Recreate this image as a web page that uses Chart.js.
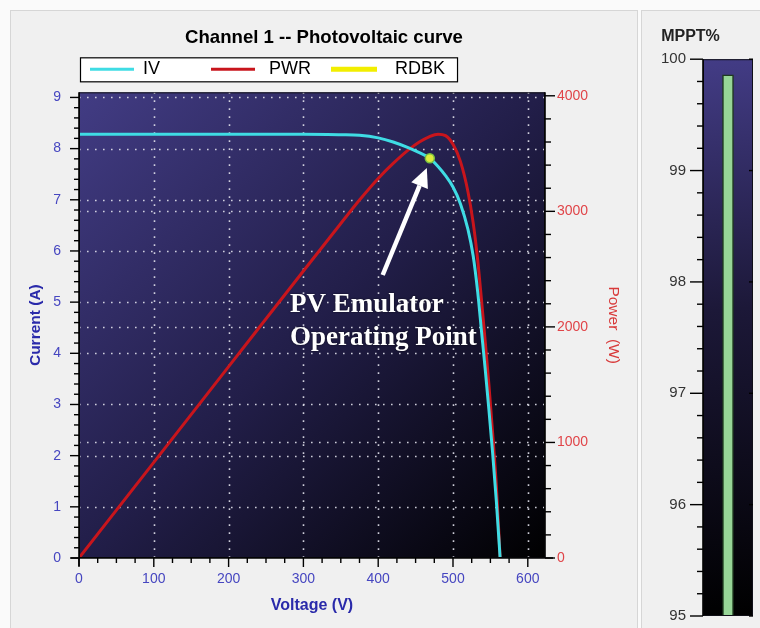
<!DOCTYPE html>
<html>
<head>
<meta charset="utf-8">
<script src="https://cdn.jsdelivr.net/npm/chart.js@4.4.1/dist/chart.umd.min.js"></script>
<style>
  html, body { margin:0; padding:0; width:760px; height:628px; overflow:hidden; background:#fafafa; }
  .panel { position:absolute; background:#f0f0f0; border:1px solid #d6d6d6; box-sizing:border-box; }
  #p1 { left:10px; top:10px; width:628px; height:640px; }
  #p2 { left:641px; top:10px; width:130px; height:640px; }
  .wrap { position:absolute; }
  #w1 { left:10px; top:10px; width:628px; height:618px; }
  #w2 { left:628px; top:10px; width:132px; height:624px; }
</style>
</head>
<body>
<div class="panel" id="p1"></div>
<div class="panel" id="p2"></div>
<div class="wrap" id="w1"><canvas id="pv" width="628" height="618"></canvas></div>
<div class="wrap" id="w2"><canvas id="mppt" width="132" height="624"></canvas></div>
<script>
// ---------------- data ----------------
const voltage  = [0, 100, 200, 300, 350, 375, 400, 420, 440, 455, 468, 480, 490, 500, 510, 520, 527, 533, 538, 543, 548, 553, 558, 563];
const currentA = [8.28, 8.28, 8.28, 8.28, 8.27, 8.26, 8.21, 8.13, 8.02, 7.92, 7.82, 7.65, 7.47, 7.25, 6.92, 6.42, 5.90, 5.20, 4.45, 3.70, 2.90, 2.05, 1.10, 0.00];
const powerW   = [0, 828, 1656, 2484, 2895, 3098, 3285, 3415, 3530, 3600, 3645, 3668, 3655, 3580, 3430, 3170, 2900, 2580, 2240, 1880, 1500, 1080, 620, 0];
const rdbkVoltage = [469];
const rdbkCurrent = [7.81];

const voltageTicks = [0, 100, 200, 300, 400, 500, 600];
const currentTicks = [0, 1, 2, 3, 4, 5, 6, 7, 8, 9];
const powerTicks   = [0, 1000, 2000, 3000, 4000];

const legendLabels = ['IV', 'PWR', 'RDBK'];

const mpptLabels = ['MPPT%'];
const mpptValues = [99.86];
const mpptTicks  = [95, 96, 97, 98, 99, 100];

// annotation (data coordinates)
const noteLines  = ['PV Emulator', 'Operating Point'];
const noteAnchor = [{v: 282, a: 4.80}, {v: 282, a: 4.16}];
const arrowFrom  = {v: 406, a: 5.53};
const arrowTo    = {v: 465, a: 7.62};

// ---------------- styles ----------------
const FONT = '"Liberation Sans", Arial, sans-serif';
const COL = {
  cyan: '#3fdce4', red: '#c8151c', yellow: '#f2ee00',
  blueTick: '#4646c0', blueTitle: '#2a2aaa', redTick: '#e04448', redTitle: '#d83a3a'
};
Chart.defaults.font.family = FONT;

function setTicks(list) { return s => { s.ticks = list.map(v => ({value: v})); }; }
function stepValues(min, max, step) { const out = []; for (let k = 0; min + k * step <= max + 1e-9; k++) out.push(min + k * step); return out; }
function isMajor(v, list) { return list.some(m => Math.abs(m - v) < 1e-6); }

function legendFrame(chart) {
  const hb = chart.legend.legendHitBoxes, last = hb[hb.length - 1];
  const cy = hb[0].top + hb[0].height / 2;
  return {l: chart.chartArea.left + 1, r: last.left + last.width + 12, t: cy - 12, b: cy + 12};
}

const pvDecor = {
  id: 'pvDecor',
  beforeDraw(chart) {
    const {ctx, chartArea: a} = chart;
    const f = legendFrame(chart);
    ctx.save();
    ctx.fillStyle = '#ffffff';
    ctx.fillRect(f.l, f.t, f.r - f.l, f.b - f.t);
    const g = ctx.createLinearGradient(a.left, a.top, a.right, a.bottom);
    g.addColorStop(0, '#423c84');
    g.addColorStop(0.5, '#221e49');
    g.addColorStop(1, '#000000');
    ctx.fillStyle = g;
    ctx.fillRect(a.left, a.top, a.right - a.left, a.bottom - a.top);
    ctx.restore();
  },
  beforeDatasetsDraw(chart) {
    const {ctx, chartArea: a, scales} = chart;
    ctx.save();
    ctx.strokeStyle = 'rgba(225,225,235,0.9)';
    ctx.lineWidth = 1.6;
    ctx.setLineDash([1.6, 6.4]);
    const line = (x1, y1, x2, y2) => { ctx.beginPath(); ctx.moveTo(x1, y1); ctx.lineTo(x2, y2); ctx.stroke(); };
    voltageTicks.filter(v => v > 0).forEach(v => { const x = Math.round(scales.x.getPixelForValue(v)) + 0.5; line(x, a.top, x, a.bottom); });
    currentTicks.filter(v => v > 0).forEach(v => { const y = Math.round(scales.y.getPixelForValue(v)) + 0.5; line(a.left, y, a.right, y); });
    powerTicks.filter(v => v > 0 && v < 4000).forEach(v => { const y = Math.round(scales.y2.getPixelForValue(v)) + 0.5; line(a.left, y, a.right, y); });
    ctx.restore();
  },
  afterDatasetsDraw(chart) {
    const {ctx, scales} = chart;
    const xs = scales.x, ys = scales.y;
    ctx.save();
    const x1 = xs.getPixelForValue(arrowFrom.v), y1 = ys.getPixelForValue(arrowFrom.a);
    const x2 = xs.getPixelForValue(arrowTo.v),   y2 = ys.getPixelForValue(arrowTo.a);
    const ang = Math.atan2(y2 - y1, x2 - x1), headLen = 19, headW = 9;
    const bx = x2 - headLen * Math.cos(ang), by = y2 - headLen * Math.sin(ang);
    ctx.strokeStyle = '#ffffff'; ctx.fillStyle = '#ffffff'; ctx.lineWidth = 4.5;
    ctx.beginPath(); ctx.moveTo(x1, y1); ctx.lineTo(bx, by); ctx.stroke();
    ctx.beginPath();
    ctx.moveTo(x2, y2);
    ctx.lineTo(bx + headW * Math.sin(ang), by - headW * Math.cos(ang));
    ctx.lineTo(bx - headW * Math.sin(ang), by + headW * Math.cos(ang));
    ctx.closePath(); ctx.fill();
    ctx.font = 'bold 27px "Liberation Serif", "Times New Roman", serif';
    ctx.textAlign = 'left'; ctx.textBaseline = 'alphabetic';
    ctx.shadowColor = 'rgba(0,0,0,0.7)'; ctx.shadowBlur = 2;
    noteLines.forEach((t, i) => ctx.fillText(t, xs.getPixelForValue(noteAnchor[i].v), ys.getPixelForValue(noteAnchor[i].a)));
    ctx.restore();
  },
  afterDraw(chart) {
    const {ctx, chartArea: a, scales} = chart;
    ctx.save();
    const line = (x1, y1, x2, y2) => { ctx.beginPath(); ctx.moveTo(x1, y1); ctx.lineTo(x2, y2); ctx.stroke(); };
    ctx.lineWidth = 1; ctx.strokeStyle = '#101018';
    ctx.strokeRect(a.left + 0.5, a.top + 0.5, a.right - a.left - 1, a.bottom - a.top - 1);
    ctx.lineWidth = 1.6; ctx.strokeStyle = '#000';
    line(a.left, a.top, a.left, a.bottom + 8);
    line(a.left - 8, a.bottom, a.right + 8, a.bottom);
    line(a.right, a.top, a.right, a.bottom);
    ctx.lineWidth = 1.4;
    stepValues(0, 9, 0.2).forEach(v => { const y = scales.y.getPixelForValue(v); line(a.left, y, a.left - (isMajor(v, currentTicks) ? 9 : 5), y); });
    stepValues(0, 4000, 200).forEach(v => { const y = scales.y2.getPixelForValue(v); line(a.right, y, a.right + (isMajor(v, powerTicks) ? 10 : 6), y); });
    stepValues(0, 620, 25).forEach(v => { const x = scales.x.getPixelForValue(v); line(x, a.bottom, x, a.bottom + (isMajor(v, voltageTicks) ? 9 : 5)); });
    const f = legendFrame(chart);
    ctx.lineWidth = 1.2; ctx.strokeStyle = '#000';
    ctx.strokeRect(f.l + 0.5, f.t + 0.5, f.r - f.l, f.b - f.t);
    ctx.restore();
  }
};

const legendColors = [COL.cyan, COL.red, COL.yellow];
const legendText = [legendLabels[0] + '        ', ' ' + legendLabels[1] + '  ', '  ' + legendLabels[2]];

new Chart(document.getElementById('pv'), {
  type: 'line',
  data: {
    datasets: [
      { label: legendLabels[0], data: voltage.map((v, i) => ({x: v, y: currentA[i]})), yAxisID: 'y',
        borderColor: COL.cyan, borderWidth: 3, pointRadius: 0, cubicInterpolationMode: 'monotone', order: 1 },
      { label: legendLabels[1], data: voltage.map((v, i) => ({x: v, y: powerW[i]})), yAxisID: 'y2',
        borderColor: COL.red, borderWidth: 3, pointRadius: 0, cubicInterpolationMode: 'monotone', order: 2 },
      { label: legendLabels[2], data: rdbkVoltage.map((v, i) => ({x: v, y: rdbkCurrent[i]})), yAxisID: 'y',
        showLine: false, pointRadius: 4.5, pointBackgroundColor: '#dcec3c', pointBorderColor: '#78c040', pointBorderWidth: 1.5, order: 0 }
    ]
  },
  options: {
    responsive: false, animation: false, events: [],
    layout: { padding: 0 },
    plugins: {
      tooltip: { enabled: false },
      title: { display: true, text: 'Channel 1 -- Photovoltaic curve', color: '#000',
               font: { family: FONT, size: 18.6, weight: 'bold' }, padding: { top: 17, bottom: 0 } },
      legend: {
        position: 'top', align: 'start', fullSize: false,
        labels: {
          boxWidth: 44, boxHeight: 3, padding: 11, color: '#000',
          font: { family: FONT, size: 18 },
          sort: (a, b) => a.datasetIndex - b.datasetIndex,
          generateLabels: chart => chart.data.datasets.map((ds, i) => ({
            text: legendText[i], fillStyle: legendColors[i], strokeStyle: legendColors[i],
            lineWidth: i === 2 ? 2 : 0, hidden: false, datasetIndex: i, fontColor: '#000'
          }))
        }
      }
    },
    scales: {
      x: {
        type: 'linear', min: 0, max: 623, afterBuildTicks: setTicks(voltageTicks), afterFit: s => { s.height = 70; },
        grid: { display: false }, border: { display: false },
        ticks: { color: COL.blueTick, font: { size: 14 }, padding: 5, maxRotation: 0, autoSkip: false, callback: v => String(v) },
        title: { display: true, text: 'Voltage (V)', color: COL.blueTitle, font: { size: 16, weight: 'bold' }, padding: { top: 0, bottom: 13 } }
      },
      xTop: {
        type: 'linear', position: 'top', display: true, afterFit: s => { s.height = 4; },
        grid: { display: false }, border: { display: false }, ticks: { display: false }
      },
      y: {
        position: 'left', min: 0, max: 9.1, afterBuildTicks: setTicks(currentTicks), afterFit: s => { s.width = 69; },
        grid: { display: false }, border: { display: false },
        ticks: { color: COL.blueTick, font: { size: 14 }, padding: 10, callback: v => String(v) },
        title: { display: true, text: 'Current (A)', color: COL.blueTitle, font: { size: 15.5, weight: 'bold' }, padding: { top: 16, bottom: 0 } }
      },
      y2: {
        position: 'right', min: 0, max: 4030, afterBuildTicks: setTicks(powerTicks), afterFit: s => { s.width = 93; },
        grid: { display: false }, border: { display: false },
        ticks: { color: COL.redTick, font: { size: 14 }, padding: 4, callback: v => String(v) },
        title: { display: true, text: 'Power  (W)', color: COL.redTitle, font: { size: 15.5 }, padding: { top: 15, bottom: 0 } }
      }
    }
  },
  plugins: [pvDecor]
});

// ---------------- MPPT% bar ----------------
const mpptDecor = {
  id: 'mpptDecor',
  beforeDraw(chart) {
    const {ctx, chartArea: a} = chart;
    const g = ctx.createLinearGradient(a.left, a.top, a.right, a.bottom);
    g.addColorStop(0, '#433c86');
    g.addColorStop(0.45, '#1c1838');
    g.addColorStop(1, '#000000');
    ctx.save(); ctx.fillStyle = g;
    ctx.fillRect(a.left, a.top, a.right - a.left, a.bottom - a.top);
    ctx.restore();
  },
  afterDraw(chart) {
    const {ctx, chartArea: a, scales} = chart;
    ctx.save();
    const line = (x1, y1, x2, y2) => { ctx.beginPath(); ctx.moveTo(x1, y1); ctx.lineTo(x2, y2); ctx.stroke(); };
    ctx.lineWidth = 1; ctx.strokeStyle = '#101018';
    ctx.strokeRect(a.left + 0.5, a.top + 0.5, a.right - a.left - 1, a.bottom - a.top - 1);
    ctx.strokeStyle = '#000'; ctx.lineWidth = 1.6;
    line(a.left, a.top, a.left, a.bottom);
    ctx.lineWidth = 1.4;
    stepValues(95, 100, 0.2).forEach(v => {
      const y = scales.y.getPixelForValue(v);
      line(a.left, y, a.left - (isMajor(v, mpptTicks) ? 13 : 6), y);
      if (isMajor(v, mpptTicks)) { line(a.right, y, a.right - 4, y); }
    });
    ctx.restore();
  }
};

new Chart(document.getElementById('mppt'), {
  type: 'bar',
  data: { labels: mpptLabels, datasets: [{ data: mpptValues, backgroundColor: '#97d597', borderColor: '#1f3a1f',
    borderWidth: 1.5, borderSkipped: false, barThickness: 11 }] },
  options: {
    responsive: false, animation: false, events: [],
    layout: { padding: { left: 0, right: 7, top: 0, bottom: 0 } },
    plugins: {
      legend: { display: false }, tooltip: { enabled: false },
      title: { display: true, text: 'MPPT%', color: '#222', font: { family: FONT, size: 16, weight: 'bold' }, padding: { top: 17, bottom: 13 } }
    },
    scales: {
      x: { display: false },
      y: { min: 95, max: 100, afterBuildTicks: setTicks(mpptTicks), afterFit: s => { s.width = 75; },
           grid: { display: false }, border: { display: false },
           ticks: { color: '#333', font: { size: 15 }, padding: 9, callback: v => String(v) } }
    }
  },
  plugins: [mpptDecor]
});
</script>
</body>
</html>
